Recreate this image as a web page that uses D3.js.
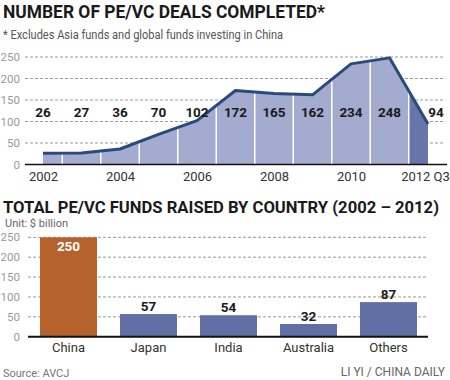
<!DOCTYPE html>
<html><head><meta charset="utf-8">
<script src="https://cdn.jsdelivr.net/npm/d3@7"></script>
<style>body{margin:0;background:#fff}svg{display:block}</style>
</head><body>
<svg id="c" width="450" height="380"></svg>
<script>
const years = ["2002","2003","2004","2005","2006","2007","2008","2009","2010","2011","2012 Q3"];
const deals = [26,27,36,70,102,172,165,162,234,248,94];
const yearTickLabels = ["2002","2004","2006","2008","2010","2012 Q3"];
const dealTicks = [0,50,100,150,200,250];

const countries = ["China","Japan","India","Australia","Others"];
const funds = [250,57,54,32,87];
const fundTicks = [0,50,100,150,200,250];

const svg = d3.select("#c");
const FONT = "Roboto, 'Liberation Sans', sans-serif";

// Titles
svg.append("text").attr("x",3).attr("y",18).attr("font-family",FONT).attr("font-weight","bold")
  .attr("font-size",18).attr("fill","#1a1a1a").attr("textLength",322).attr("lengthAdjust","spacingAndGlyphs")
  .text("NUMBER OF PE/VC DEALS COMPLETED*");
svg.append("text").attr("x",3).attr("y",39).attr("font-family",FONT)
  .attr("font-size",12.5).attr("fill","#555").attr("textLength",280).attr("lengthAdjust","spacingAndGlyphs")
  .text("* Excludes Asia funds and global funds investing in China");

// Top chart
const x1 = d3.scalePoint().domain(years).range([43,428]);
const y1 = d3.scaleLinear().domain([0,250]).range([164.5,57]);
const g1 = svg.append("g");

g1.selectAll("line.grid").data(dealTicks.filter(d=>d>0)).join("line")
  .attr("x1",25).attr("x2",445).attr("y1",d=>y1(d)).attr("y2",d=>y1(d))
  .attr("stroke","#999").attr("stroke-width",1).attr("stroke-dasharray","3,2");
g1.selectAll("text.yt").data(dealTicks).join("text")
  .attr("x",20).attr("y",d=>y1(d)).attr("dy","0.35em").attr("text-anchor","end")
  .attr("font-family",FONT).attr("font-size",11.5).attr("fill","#999").text(d=>d);

const pts = years.map((y,i)=>({y,v:deals[i]}));
const area = d3.area().x(d=>x1(d.y)).y0(y1(0)).y1(d=>y1(d.v));
const line = d3.line().x(d=>x1(d.y)).y(d=>y1(d.v));

svg.append("clipPath").attr("id","ac").append("path").attr("d",area(pts));
g1.append("path").attr("d",area(pts)).attr("fill","#a3abcf");
const mids = years.slice(0,-1).map((y,i)=>(x1(y)+x1(years[i+1]))/2);
const cg = g1.append("g").attr("clip-path","url(#ac)");
cg.append("rect").attr("x",mids[mids.length-1]).attr("y",y1(250))
  .attr("width",x1(years[years.length-1])-mids[mids.length-1]).attr("height",y1(0)-y1(250))
  .attr("fill","#6676a8");
cg.selectAll("line").data(mids).join("line")
  .attr("x1",d=>d).attr("x2",d=>d).attr("y1",y1(0)).attr("y2",y1(260))
  .attr("stroke","#fff").attr("stroke-width",1.5);
g1.append("path").attr("d",line(pts)).attr("fill","none").attr("stroke","#2b4a7c")
  .attr("stroke-width",3).attr("stroke-linejoin","round");

g1.append("line").attr("x1",25).attr("x2",447).attr("y1",y1(0)).attr("y2",y1(0))
  .attr("stroke","#111").attr("stroke-width",1.5);

g1.selectAll("text.val").data(pts).join("text")
  .attr("x",(d,i)=>x1(d.y)+(i===pts.length-1?8:0)).attr("y",112).attr("dy","0.35em").attr("text-anchor","middle")
  .attr("font-family",FONT).attr("font-weight","bold").attr("font-size",13.5).attr("fill","#1a1a1a")
  .text(d=>d.v);

const xAxis1 = g1.append("g").attr("transform",`translate(0,${y1(0)})`)
  .call(d3.axisBottom(x1).tickValues(yearTickLabels).tickSize(0).tickPadding(7));
xAxis1.select(".domain").remove();
xAxis1.selectAll("text").attr("font-family",FONT).attr("font-size",13).attr("fill","#333")
  .attr("dx",d=>d==="2012 Q3"?-3:0);

// Bottom title
svg.append("text").attr("x",3).attr("y",213).attr("font-family",FONT).attr("font-weight","bold")
  .attr("font-size",17).attr("fill","#1a1a1a").attr("textLength",436).attr("lengthAdjust","spacingAndGlyphs")
  .text("TOTAL PE/VC FUNDS RAISED BY COUNTRY (2002 \u2013 2012)");
svg.append("text").attr("x",5).attr("y",227).attr("font-family",FONT)
  .attr("font-size",11).attr("fill","#666").text("Unit: $ billion");

// Bottom chart
const x2 = d3.scaleBand().domain(countries).range([28.5,428.5]).paddingInner(0.2875).paddingOuter(0.14375);
const y2 = d3.scaleLinear().domain([0,250]).range([336.7,237.3]);
const g2 = svg.append("g");
g2.selectAll("line.grid").data(fundTicks.filter(d=>d>0)).join("line")
  .attr("x1",28).attr("x2",427).attr("y1",d=>y2(d)).attr("y2",d=>y2(d))
  .attr("stroke","#999").attr("stroke-width",1).attr("stroke-dasharray","3,2");
g2.selectAll("text.yt").data(fundTicks).join("text")
  .attr("x",20).attr("y",d=>y2(d)).attr("dy","0.35em").attr("text-anchor","end")
  .attr("font-family",FONT).attr("font-size",11.5).attr("fill","#999").text(d=>d);

const bars = countries.map((c,i)=>({c,v:funds[i]}));
g2.selectAll("rect").data(bars).join("rect")
  .attr("x",d=>x2(d.c)).attr("width",x2.bandwidth())
  .attr("y",d=>y2(d.v)).attr("height",d=>y2(0)-y2(d.v))
  .attr("fill",(d,i)=>i===0?"#b5622c":"#6070a4");
g2.append("line").attr("x1",28).attr("x2",428).attr("y1",y2(0)).attr("y2",y2(0))
  .attr("stroke","#111").attr("stroke-width",2);
g2.selectAll("text.val").data(bars).join("text")
  .attr("x",d=>x2(d.c)+x2.bandwidth()/2)
  .attr("y",(d,i)=>i===0?y2(d.v)+9:y2(d.v)-8).attr("dy","0.35em").attr("text-anchor","middle")
  .attr("font-family",FONT).attr("font-weight","bold").attr("font-size",13.5)
  .attr("fill",(d,i)=>i===0?"#fff":"#1a1a1a").text(d=>d.v);

const xAxis2 = g2.append("g").attr("transform",`translate(0,${y2(0)})`)
  .call(d3.axisBottom(x2).tickSize(0).tickPadding(6));
xAxis2.select(".domain").remove();
xAxis2.selectAll("text").attr("font-family",FONT).attr("font-size",13).attr("fill","#333");

svg.append("text").attr("x",3).attr("y",377).attr("font-family",FONT)
  .attr("font-size",11).attr("fill","#777").text("Source: AVCJ");
svg.append("text").attr("x",445).attr("y",376).attr("text-anchor","end").attr("font-family",FONT)
  .attr("font-size",12).attr("fill","#666").text("LI YI / CHINA DAILY");
</script>
</body></html>
